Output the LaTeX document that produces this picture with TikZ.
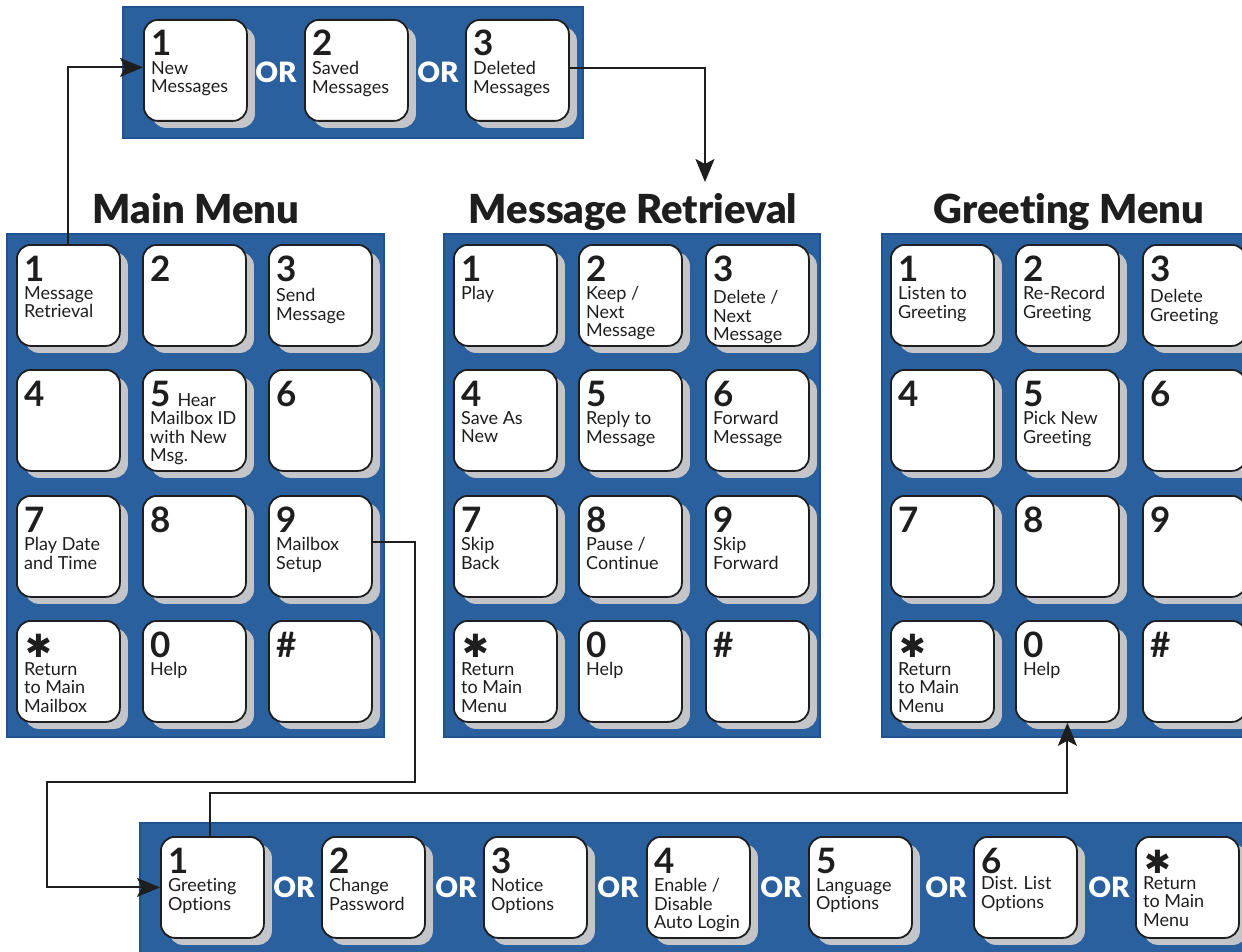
\documentclass[tikz,border=0pt]{standalone}
\usepackage{fontspec}
\setmainfont{Lato}[Ligatures=NoCommon]
\newfontfamily\titlefont{Lato Black}[Ligatures=NoCommon]
\newfontfamily\symfont{DejaVu Sans}
\usetikzlibrary{shadows,arrows.meta}
\definecolor{panelblue}{RGB}{42,96,158}
\definecolor{paneledge}{RGB}{30,82,145}
\definecolor{keyshade}{RGB}{196,197,201}
\definecolor{ink}{RGB}{30,30,30}
\tikzset{
 panel/.style={fill=panelblue, draw=paneledge, line width=1.2pt},
 keybox/.style={anchor=north west, minimum width=103pt, minimum height=101pt, inner sep=0pt,
   fill=white, draw=ink, line width=1.8pt, rounded corners=14pt,
   drop shadow={shadow xshift=8pt, shadow yshift=-7pt, fill=keyshade, opacity=1}},
 keynum/.style={anchor=base west, inner sep=0pt, text=ink, font=\fontsize{35}{35}\selectfont\bfseries},
 keytext/.style={anchor=north west, inner sep=0pt, align=left, text=ink, font=\fontsize{18}{18.7}\selectfont},
 ortext/.style={text=white, inner sep=0pt, font=\titlefont\fontsize{28}{28}\selectfont},
 menutitle/.style={anchor=base, inner sep=0pt, text=ink, font=\titlefont\fontsize{40}{40}\selectfont},
 conn/.style={draw=ink, line width=2pt, -{Stealth[length=23pt,width=19pt,inset=5pt]}},
}
% #1 text shift, #2 name, #3 position, #4 digit, #5 label
\newcommand\padkey[5]{%
 \node[keybox] (#2) at (#3) {};
 \node[keynum] (#2n) at ([shift={(8,37)}]#2.north west) {#4};
 \node[keytext] (#2t) at ([shift={(8,42+#1)}]#2.north west) {#5};
}
\newcommand\astk{\hspace{1pt}{\symfont\fontsize{32}{32}\selectfont ✱}}
\begin{document}
\begin{tikzpicture}[x=1pt,y=-1pt]
\useasboundingbox (0,0) rectangle (1242,952);
\clip (0,0) rectangle (1242,952);
\fill[white] (0,0) rectangle (1242,952);
% panels
\draw[panel] (123,7) rectangle (583,138);
\draw[panel] (7,234) rectangle (384,737);
\draw[panel] (444,234) rectangle (820,737);
\draw[panel] (882,234) rectangle (1260,737);
\draw[panel] (140,823) rectangle (1260,970);
% titles
\node[menutitle] (ttlmain) at (196,224) {Main Menu};
\node[menutitle] (ttlmr) at (633,224) {Message Retrieval};
\node[menutitle] (ttlgr) at (1069,224) {Greeting Menu};
% top keys
\padkey{0}{t1}{143,19}{1}{New\\Messages}
\padkey{0}{t2}{304,19}{2}{Saved\\Messages}
\padkey{0}{t3}{465,19}{3}{Deleted\\Messages}
\node[ortext] (or1) at (276,72) {OR};
\node[ortext] (or2) at (438,72) {OR};
% main menu
\padkey{0}{mm1}{16,244}{1}{Message\\Retrieval}
\padkey{0}{mm2}{142,244}{2}{}
\padkey{2}{mm3}{268,244}{3}{Send\\Message}
\padkey{0}{mm4}{16,369}{4}{}
\padkey{0}{mm5}{142,369}{5\hspace{7pt}{\fontsize{18}{18.7}\selectfont\mdseries Hear}}{Mailbox ID\\with New\\Msg.}
\padkey{0}{mm6}{268,369}{6}{}
\padkey{0}{mm7}{16,495}{7}{Play Date\\and Time}
\padkey{0}{mm8}{142,495}{8}{}
\padkey{0}{mm9}{268,495}{9}{Mailbox\\Setup}
\padkey{0}{mmS}{16,620}{\astk}{Return\\to Main\\Mailbox}
\padkey{0}{mm0}{142,620}{0}{Help}
\padkey{0}{mmH}{268,620}{\#}{}
% message retrieval
\padkey{0}{mr1}{453,244}{1}{Play}
\padkey{0}{mr2}{578,244}{2}{Keep /\\Next\\Message}
\padkey{4}{mr3}{705,244}{3}{Delete /\\Next\\Message}
\padkey{0}{mr4}{453,369}{4}{Save As\\New}
\padkey{0}{mr5}{578,369}{5}{Reply to\\Message}
\padkey{0}{mr6}{705,369}{6}{Forward\\Message}
\padkey{0}{mr7}{453,495}{7}{Skip\\Back}
\padkey{0}{mr8}{578,495}{8}{Pause /\\Continue}
\padkey{0}{mr9}{705,495}{9}{Skip\\Forward}
\padkey{0}{mrS}{453,620}{\astk}{Return\\to Main\\Menu}
\padkey{0}{mr0}{578,620}{0}{Help}
\padkey{0}{mrH}{705,620}{\#}{}
% greeting menu
\padkey{0}{g1}{890,244}{1}{Listen to\\Greeting}
\padkey{0}{g2}{1015,244}{2}{Re-Record\\Greeting}
\padkey{3}{g3}{1142,244}{3}{Delete\\Greeting}
\padkey{0}{g4}{890,369}{4}{}
\padkey{0}{g5}{1015,369}{5}{Pick New\\Greeting}
\padkey{0}{g6}{1142,369}{6}{}
\padkey{0}{g7}{890,495}{7}{}
\padkey{0}{g8}{1015,495}{8}{}
\padkey{0}{g9}{1142,495}{9}{}
\padkey{0}{gS}{890,620}{\astk}{Return\\to Main\\Menu}
\padkey{0}{g0}{1015,620}{0}{Help}
\padkey{0}{gH}{1142,620}{\#}{}
% mailbox setup row
\padkey{0}{b1}{160,836}{1}{Greeting\\Options}
\padkey{0}{b2}{321,836}{2}{Change\\Password}
\padkey{0}{b3}{483,836}{3}{Notice\\Options}
\padkey{0}{b4}{646,836}{4}{Enable /\\Disable\\Auto Login}
\padkey{0}{b5}{808,836}{5}{Language\\Options}
\padkey{-2}{b6}{973,836}{6}{Dist. List\\Options}
\padkey{-2}{b7}{1135,836}{\astk}{Return\\to Main\\Menu}
\node[ortext] (or3) at (294,887) {OR};
\node[ortext] (or4) at (456,887) {OR};
\node[ortext] (or5) at (618,887) {OR};
\node[ortext] (or6) at (781,887) {OR};
\node[ortext] (or7) at (946,887) {OR};
\node[ortext] (or8) at (1109,887) {OR};
% connectors
\coordinate (mrin) at (705,182);
\coordinate (c1) at (415,782);
\coordinate (c2) at (47,782);
\coordinate (c3) at (0,793);
\draw[conn] (mm1.north) |- ([yshift=3pt]t1.west);
\draw[conn] ([yshift=2pt]t3.east) -| (mrin);
\draw[conn] ([yshift=4pt]mm9.east) -| (c1) -- (c2) |- (b1.west);
\draw[conn] ([xshift=-2pt]b1.north) |- (c3 -| g0.south) -- (g0.south);
\end{tikzpicture}
\end{document}
